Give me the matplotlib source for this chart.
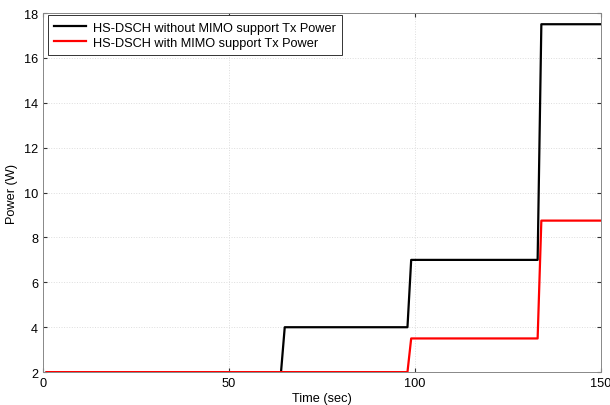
import numpy as np
import matplotlib
matplotlib.use('Agg')
import matplotlib.pyplot as plt

plt.rcParams['font.family'] = ['Liberation Sans', 'DejaVu Sans']
plt.rcParams['font.size'] = 9.2

# tempi (sec) e potenze (W) dei due profili a gradini
t_nomimo = [1, 64, 65, 98, 99, 133, 134, 150]
p_nomimo = [2, 2, 4, 4, 7, 7, 17.5, 17.5]

t_mimo = [1, 98, 99, 133, 134, 150]
p_mimo = [2, 2, 3.5, 3.5, 8.75, 8.75]

lab_nomimo = 'HS-DSCH without MIMO support Tx Power'
lab_mimo = 'HS-DSCH with MIMO support Tx Power'

fig = plt.figure(figsize=(6.1, 4.06), dpi=100)
ax = fig.add_axes([0.0705, 0.081, 0.9145, 0.8845])

ax.plot(t_nomimo, p_nomimo, color='black', lw=1.6, label=lab_nomimo)
ax.plot(t_mimo, p_mimo, color='red', lw=1.6, label=lab_mimo)

ax.set_xlim(0, 150)
ax.set_ylim(2, 18)
ax.set_xticks([0, 50, 100, 150])
ax.set_yticks(np.arange(2, 19, 2))
ax.grid(True, color='#dddddd', linestyle=':', lw=0.7)
ax.tick_params(direction='in', top=True, right=True, length=3, colors='#333333', labelcolor='black')
for s in ax.spines.values():
    s.set_color('#888888')
    s.set_linewidth(0.7)

ax.set_xlabel('Time (sec)', labelpad=2)
ax.set_ylabel('Power (W)', labelpad=4)

leg = ax.legend(loc='upper left', bbox_to_anchor=(0.009, 0.994), borderaxespad=0,
                fancybox=False, framealpha=1, edgecolor='#333333',
                handlelength=2.5, handletextpad=0.5,
                borderpad=0.5, labelspacing=0.25)
leg.get_frame().set_linewidth(0.7)

fig.savefig('out.png', dpi=100)
